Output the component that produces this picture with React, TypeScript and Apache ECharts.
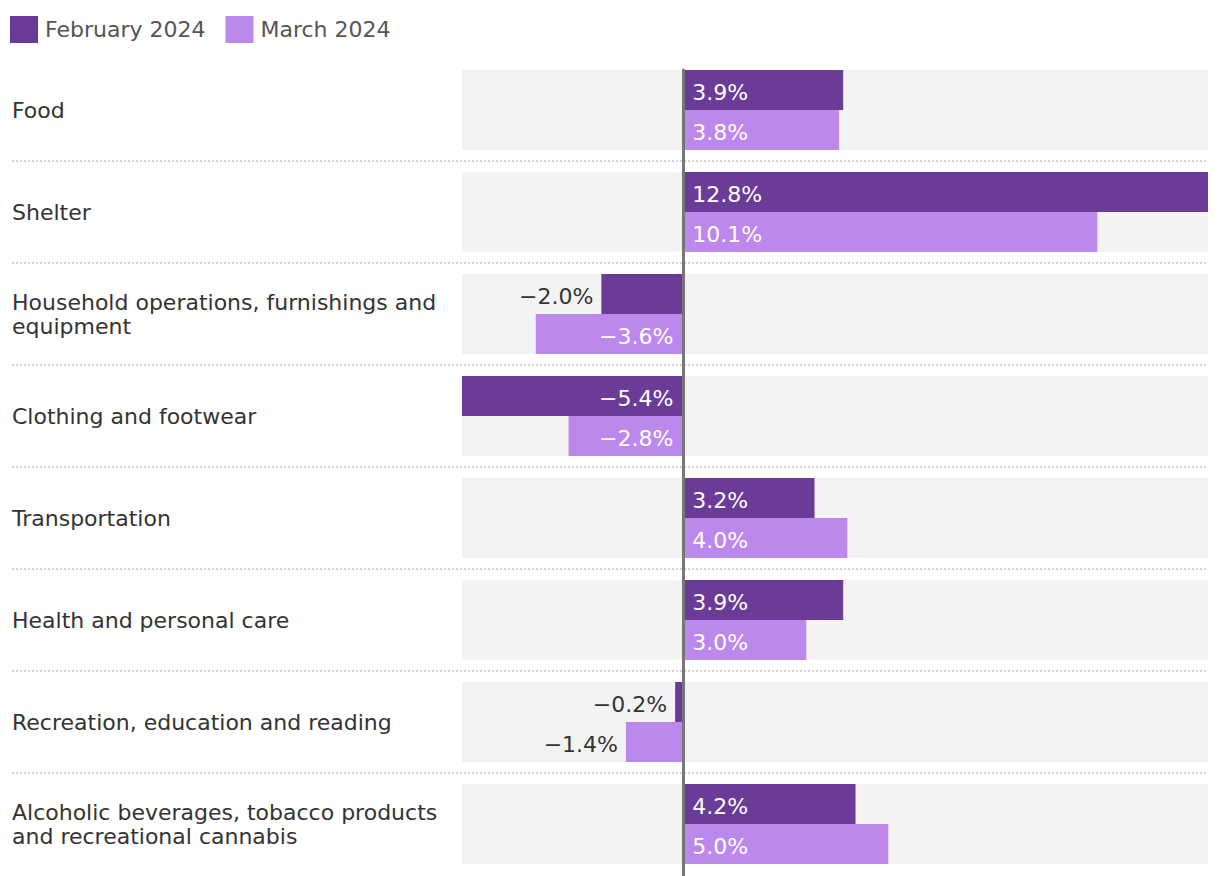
import React, { useEffect, useRef } from "react";
import * as echarts from "echarts";

const categories = [
  "Food",
  "Shelter",
  "Household operations, furnishings and equipment",
  "Clothing and footwear",
  "Transportation",
  "Health and personal care",
  "Recreation, education and reading",
  "Alcoholic beverages, tobacco products and recreational cannabis",
];
const seriesNames = ["February 2024", "March 2024"];
const febValues = [3.9, 12.8, -2.0, -5.4, 3.2, 3.9, -0.2, 4.2];
const marValues = [3.8, 10.1, -3.6, -2.8, 4.0, 3.0, -1.4, 5.0];
const xMin = -5.4;
const xMax = 12.8;

const FONT = "DejaVu Sans";
const FEB_COLOR = "#6a3c97";
const MAR_COLOR = "#bc88ec";

function makeData(values: number[]) {
  return values.map((v) => {
    const outside = Math.abs(v) < 2.5 && v < 0;
    let label: any;
    if (v >= 0) {
      label = { position: "insideLeft", color: "#ffffff", distance: 9 };
    } else if (outside) {
      label = { position: "left", color: "#333333", distance: 8 };
    } else {
      label = { position: "insideRight", color: "#ffffff", distance: 10 };
    }
    return { value: v, label };
  });
}

function fmt(p: any) {
  const v = p.value as number;
  const s = Math.abs(v).toFixed(1) + "%";
  return v < 0 ? "\u2212" + s : s;
}

export default function App() {
  const ref = useRef<HTMLDivElement>(null);
  useEffect(() => {
    if (!ref.current) return;
    const chart = echarts.init(ref.current, undefined, { renderer: "svg" });
    const barCommon = {
      type: "bar",
      xAxisIndex: 0,
      yAxisIndex: 0,
      barWidth: 40,
      barGap: "0%",
      showBackground: true,
      backgroundStyle: { color: "#f3f3f3" },
      label: {
        show: true,
        formatter: fmt,
        fontFamily: FONT,
        fontSize: 22,
        offset: [0, 2],
      },
    };
    chart.setOption({
      animation: false,
      textStyle: { fontFamily: FONT },
      legend: {
        left: 10,
        top: 16,
        padding: 0,
        icon: "rect",
        itemWidth: 28,
        itemHeight: 27,
        itemGap: 20,
        textStyle: { fontFamily: FONT, fontSize: 22, color: "#555555", padding: [4, 0, 0, 2] },
        data: seriesNames,
      },
      grid: [
        { left: 462, right: 12, top: 59, bottom: 1 },
        { left: 12, right: 12, top: 59, bottom: 1 },
        { left: 462, right: 12, top: 70, bottom: 0 },
      ],
      xAxis: [
        { type: "value", gridIndex: 0, min: xMin, max: xMax, show: false },
        { type: "value", gridIndex: 1, show: false },
        { type: "value", gridIndex: 2, min: xMin, max: xMax, show: false },
      ],
      yAxis: [
        {
          type: "category",
          gridIndex: 0,
          data: categories,
          inverse: true,
          axisLine: { show: false },
          axisTick: { show: false },
          axisLabel: { show: false },
          splitLine: { show: false },
        },
        {
          type: "category",
          gridIndex: 1,
          data: categories,
          inverse: true,
          axisLine: { show: false },
          axisTick: { show: false },
          axisLabel: {
            show: true,
            inside: true,
            margin: 0,
            align: "left",
            fontFamily: FONT,
            fontSize: 22,
            color: "#333333",
            width: 440,
            overflow: "break",
            lineHeight: 24,
            padding: [4, 0, 0, 0],
          },
          splitLine: {
            show: true,
            showMinLine: false,
            showMaxLine: false,
            lineStyle: { color: "#d2d2d2", width: 2, type: [2, 2] },
          },
        },
        {
          type: "value",
          gridIndex: 2,
          z: 10,
          axisLine: { show: true, onZero: true, lineStyle: { color: "#777777", width: 3 } },
          axisTick: { show: false },
          axisLabel: { show: false },
          splitLine: { show: false },
        },
      ],
      series: [
        { ...barCommon, name: seriesNames[0], itemStyle: { color: FEB_COLOR }, data: makeData(febValues) },
        { ...barCommon, name: seriesNames[1], itemStyle: { color: MAR_COLOR }, data: makeData(marValues) },
      ],
    });
    return () => chart.dispose();
  }, []);
  return (
    <div
      ref={ref}
      style={{ position: "fixed", left: 0, top: 0, width: 1220, height: 876, background: "#ffffff" }}
    />
  );
}
